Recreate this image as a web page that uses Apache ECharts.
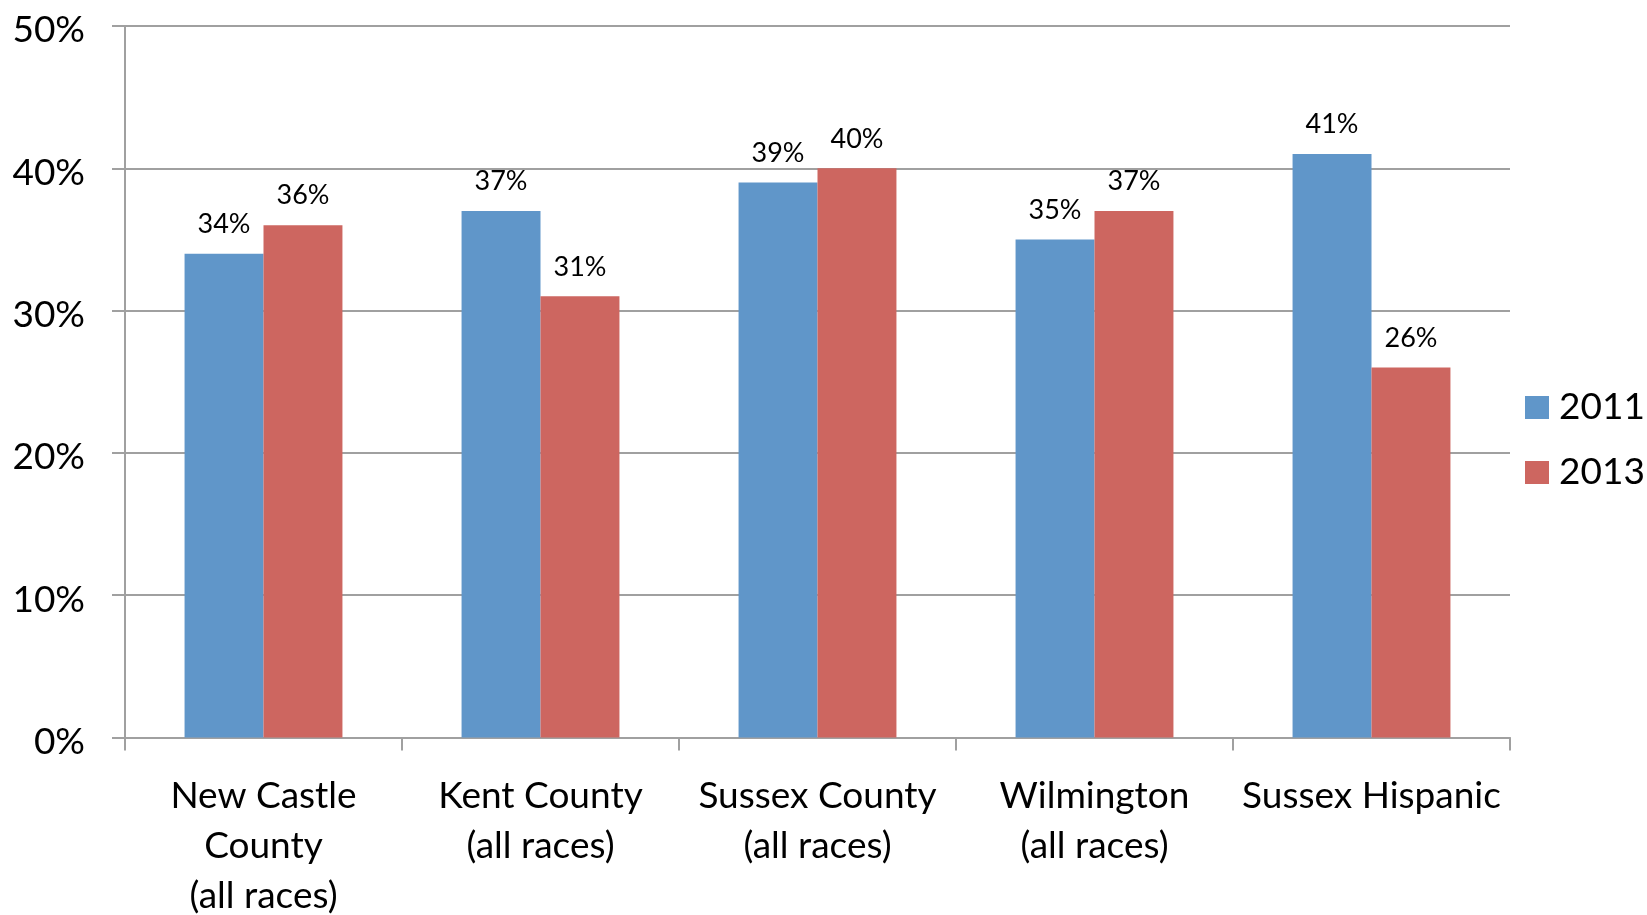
<!DOCTYPE html>
<html>
<head>
<meta charset="utf-8">
<script src="https://cdn.jsdelivr.net/npm/echarts@6/dist/echarts.min.js"></script>
<style>
html,body{margin:0;padding:0;background:#fff;}
#chart{width:1647px;height:915px;}
</style>
</head>
<body>
<div id="chart"></div>
<script>
const categories = [
  "New Castle\nCounty\n(all races)",
  "Kent County\n(all races)",
  "Sussex County\n(all races)",
  "Wilmington\n(all races)",
  "Sussex Hispanic"
];
const seriesNames = ["2011", "2013"];
const values2011 = [34, 37, 39, 35, 41];
const values2013 = [36, 31, 40, 37, 26];
const yTicks = { min: 0, max: 50, interval: 10 };

const FONT = "Lato";
const gray = "#a0a0a0";
const chart = echarts.init(document.getElementById('chart'));
const labelCfg = {
  show: true,
  position: 'top',
  distance: 16,
  formatter: '{c}%',
  fontFamily: FONT,
  fontSize: 27,
  color: '#000'
};
chart.setOption({
  animation: false,
  textStyle: { fontFamily: FONT },
  grid: { left: 125, right: 137, top: 26, bottom: 177.5, containLabel: false, outerBoundsMode: 'none' },
  legend: {
    orient: 'vertical',
    left: 1520,
    top: 384,
    icon: 'rect',
    itemWidth: 24,
    itemHeight: 23,
    itemGap: 28,
    textStyle: { fontFamily: FONT, fontSize: 37, color: '#000', padding: [0, 0, 0, 5] },
    data: seriesNames
  },
  xAxis: {
    type: 'category',
    data: categories,
    axisLine: { lineStyle: { color: gray, width: 2 } },
    axisTick: { show: true, length: 13, lineStyle: { color: gray, width: 2 } },
    axisLabel: { fontFamily: FONT, fontSize: 37, color: '#000', lineHeight: 50, margin: 34, interval: 0 }
  },
  yAxis: {
    type: 'value',
    min: yTicks.min,
    max: yTicks.max,
    interval: yTicks.interval,
    axisLine: { show: true, lineStyle: { color: gray, width: 2 } },
    axisTick: { show: true, length: 13, lineStyle: { color: gray, width: 2 } },
    splitLine: { lineStyle: { color: gray, width: 2 } },
    axisLabel: {
      formatter: '{v|{value}%}',
      margin: 40,
      rich: { v: { fontFamily: FONT, fontSize: 37, color: '#000', padding: [9, 0, 0, 0] } }
    }
  },
  series: [
    { name: seriesNames[0], type: 'bar', data: values2011, barGap: '0%', barCategoryGap: '43%',
      itemStyle: { color: '#6096c9' }, label: labelCfg },
    { name: seriesNames[1], type: 'bar', data: values2013, barGap: '0%', barCategoryGap: '43%',
      itemStyle: { color: '#cd6660' }, label: labelCfg }
  ]
});
</script>
</body>
</html>
